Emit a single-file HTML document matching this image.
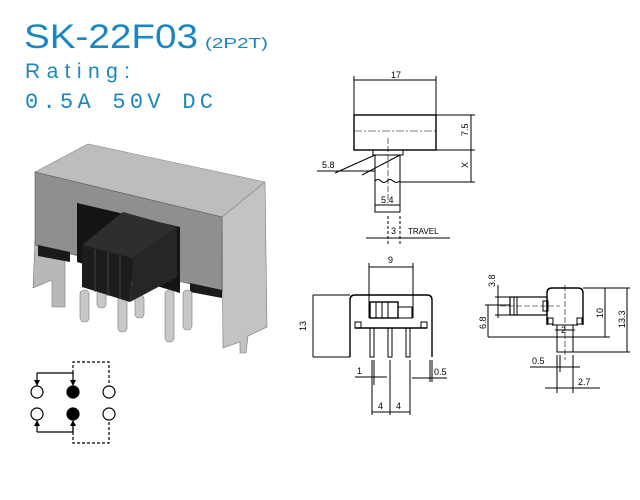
<!DOCTYPE html>
<html><head><meta charset="utf-8"><style>
html,body{margin:0;padding:0;background:#fff;}
svg{display:block}
</style></head><body>
<svg width="640" height="500" viewBox="0 0 640 500" xmlns="http://www.w3.org/2000/svg">
<defs>
<marker id="ar" viewBox="0 0 6 6" refX="5" refY="3" markerWidth="5" markerHeight="5" orient="auto"><path d="M0,0L6,3L0,6z" fill="#000"/></marker>
</defs>
<g fill="#1a87c2" font-family="'Liberation Sans',sans-serif">
<text x="24" y="48" font-size="34" textLength="174" lengthAdjust="spacingAndGlyphs">SK-22F03</text>
<text x="205" y="48" font-size="15" textLength="63" lengthAdjust="spacingAndGlyphs">(2P2T)</text>
<text x="25" y="78" font-size="21" textLength="105" lengthAdjust="spacing">Rating:</text>
<text x="25" y="108" font-size="22" textLength="188" lengthAdjust="spacing" font-family="'Liberation Mono',monospace">0.5A 50V DC</text>
</g>
<g>
<polygon points="35,240 65,250 65,307 52,307 52,280 33,288" fill="#b8b8b8" stroke="#666" stroke-width="0.5"/>
<polygon points="222,217 265,182 267,327 248,336 246,353 240,353 240,342 223,348" fill="#c3c3c3" stroke="#777" stroke-width="0.6"/>
<polygon points="35,172 88,144 265,182 222,217" fill="#bdbdbd" stroke="#888" stroke-width="0.6"/>
<polygon points="35,172 222,217 222,292 35,245" fill="#8f8f8f" stroke="#555" stroke-width="0.6"/>
<polygon points="38,245 70,252 70,262 38,256" fill="#1a1a1a"/>
<polygon points="190,283 222,290 222,298 190,292" fill="#1a1a1a"/>
<polygon points="77,203 180,227 180,293 77,262" fill="#141414"/>
<g fill="#c8c8c8" stroke="#777" stroke-width="0.6">
<rect x="80" y="290" width="9" height="32" rx="4"/><rect x="97" y="290" width="9" height="18" rx="4"/>
<rect x="118" y="295" width="9" height="37" rx="4"/><rect x="135" y="295" width="9" height="23" rx="4"/>
<rect x="165" y="290" width="9" height="52" rx="4"/><rect x="183" y="290" width="9" height="40" rx="4"/>
</g>
<polygon points="82,245 123,212 177,227 133,258" fill="#2e2e2e"/>
<polygon points="82,245 133,258 130,302 82,287" fill="#1c1c1c"/>
<polygon points="133,258 177,227 177,277 130,302" fill="#262626"/>
<g stroke="#444" stroke-width="1"><line x1="95" y1="249" x2="95" y2="292"/><line x1="108" y1="252" x2="108" y2="296"/><line x1="120" y1="255" x2="120" y2="299"/></g>
</g>
<g stroke="#000" stroke-width="1.2" fill="none">
<polyline points="37,373 73,373 73,385" marker-end="url(#ar)"/>
<line x1="37" y1="373" x2="37" y2="385" marker-end="url(#ar)"/>
<polyline points="37,432 73,432 73,421"/>
<line x1="37" y1="432" x2="37" y2="421" marker-end="url(#ar)"/>
<line x1="73" y1="432" x2="73" y2="421" marker-end="url(#ar)"/>
<polyline points="73,373 73,362 109,362 109,385" stroke-dasharray="3,2"/>
<polyline points="73,432 73,443 109,443 109,421" stroke-dasharray="3,2"/>
<circle cx="37" cy="392" r="6"/><circle cx="109" cy="392" r="6"/>
<circle cx="37" cy="414" r="6"/><circle cx="109" cy="414" r="6"/>
<circle cx="73" cy="392" r="6" fill="#000"/><circle cx="73" cy="414" r="6" fill="#000"/>
</g>
<g stroke="#000" stroke-width="1" fill="none">
<line x1="354" y1="80" x2="436" y2="80"/><line x1="354" y1="76" x2="354" y2="115"/><line x1="436" y1="76" x2="436" y2="115"/>
<rect x="354" y="115" width="82" height="35" stroke-width="1.4"/>
<line x1="354" y1="131" x2="436" y2="131" stroke-dasharray="8,2,2,2" stroke-width="0.6"/>
<rect x="373" y="150" width="30" height="5"/>
<rect x="375" y="155" width="25" height="57"/>
<line x1="388" y1="138" x2="388" y2="200" stroke-dasharray="6,2" stroke-width="0.6"/>
<path d="M375,181 q3,-3 6,0 t6,0 t6,0 t7,0" />
<line x1="436" y1="115" x2="475" y2="115"/><line x1="436" y1="150" x2="475" y2="150"/><line x1="400" y1="182" x2="475" y2="182"/>
<line x1="471" y1="115" x2="471" y2="182"/>
<line x1="317" y1="171" x2="375" y2="171"/>
<line x1="335" y1="173" x2="375" y2="155"/><line x1="362" y1="175" x2="400" y2="155"/>
<line x1="375" y1="205" x2="400" y2="205"/>
<line x1="388" y1="216" x2="388" y2="246" stroke-dasharray="3,2"/><line x1="400" y1="216" x2="400" y2="246" stroke-dasharray="3,2"/>
<line x1="366" y1="238" x2="450" y2="238"/>
</g>
<g font-family="'Liberation Sans',sans-serif" font-size="9" fill="#000">
<text x="391" y="78">17</text>
<text x="322" y="168">5.8</text>
<text x="381" y="203">5.4</text>
<text x="391" y="234">3</text>
<text x="408" y="234" font-size="8">TRAVEL</text>
<text transform="translate(468,136) rotate(-90)">7.5</text>
<text transform="translate(468,168) rotate(-90)">X</text>
</g>
<g stroke="#000" stroke-width="1" fill="none">
<line x1="369" y1="267" x2="413" y2="267"/><line x1="369" y1="263" x2="369" y2="318"/><line x1="413" y1="263" x2="413" y2="318"/>
<path d="M350,357 L350,300 Q350,295 355,295 L427,295 Q432,295 432,300 L432,357" stroke-width="1.4"/>
<rect x="370" y="302" width="28" height="16" stroke-width="1.4"/>
<line x1="376" y1="302" x2="376" y2="318"/><line x1="382" y1="302" x2="382" y2="318"/><line x1="388" y1="302" x2="388" y2="318"/>
<rect x="398" y="307" width="14" height="11"/>
<line x1="355" y1="328" x2="427" y2="328" stroke-width="1.4"/>
<rect x="355" y="322" width="6" height="6"/><rect x="421" y="322" width="6" height="6"/>
<rect x="370" y="328" width="4" height="29"/><rect x="388" y="328" width="4" height="29"/><rect x="406" y="328" width="4" height="29"/>
<line x1="313" y1="295" x2="350" y2="295"/><line x1="313" y1="357" x2="350" y2="357"/><line x1="313" y1="295" x2="313" y2="357"/>
<line x1="355" y1="377" x2="387" y2="377"/><line x1="372" y1="360" x2="372" y2="385"/><line x1="374" y1="360" x2="374" y2="385"/>
<line x1="412" y1="378" x2="447" y2="378"/><line x1="430" y1="360" x2="430" y2="382"/><line x1="432" y1="360" x2="432" y2="382"/>
<line x1="372" y1="385" x2="372" y2="415"/><line x1="390" y1="360" x2="390" y2="415"/><line x1="410" y1="360" x2="410" y2="415"/>
<line x1="372" y1="412" x2="410" y2="412"/>
</g>
<g font-family="'Liberation Sans',sans-serif" font-size="9" fill="#000">
<text x="388" y="263">9</text>
<text transform="translate(306,331) rotate(-90)">13</text>
<text x="357" y="374">1</text>
<text x="434" y="375">0.5</text>
<text x="378" y="409">4</text><text x="396" y="409">4</text>
</g>
<g stroke="#000" stroke-width="1" fill="none">
<path d="M547,325 L547,293 Q547,288 552,288 L578,288 Q583,288 583,293 L583,325" stroke-width="1.4"/>
<rect x="510" y="297" width="37" height="18" stroke-width="1.2"/>
<line x1="514" y1="297" x2="514" y2="315"/><line x1="517" y1="297" x2="517" y2="315"/>
<rect x="543" y="301" width="5" height="10"/>
<rect x="548" y="318" width="5" height="6"/><rect x="577" y="318" width="5" height="6"/>
<line x1="552" y1="325" x2="578" y2="325"/>
<rect x="557" y="325" width="16" height="27"/>
<line x1="565" y1="285" x2="565" y2="360" stroke-dasharray="6,2" stroke-width="0.6"/>
<line x1="500" y1="306" x2="560" y2="306" stroke-dasharray="6,2" stroke-width="0.6"/>
<line x1="583" y1="288" x2="630" y2="288"/><line x1="488" y1="337" x2="610" y2="337"/><line x1="573" y1="352" x2="630" y2="352"/>
<line x1="605" y1="288" x2="605" y2="337"/><line x1="627" y1="288" x2="627" y2="352"/>
<line x1="488" y1="305" x2="488" y2="337"/><line x1="485" y1="305" x2="510" y2="305"/>
<line x1="495" y1="297" x2="510" y2="297"/><line x1="495" y1="315" x2="510" y2="315"/><line x1="498" y1="285" x2="498" y2="318"/>
<line x1="555" y1="330" x2="575" y2="330"/>
<line x1="530" y1="367" x2="580" y2="367"/><line x1="557" y1="355" x2="557" y2="372"/><line x1="560" y1="355" x2="560" y2="372"/>
<line x1="545" y1="388" x2="600" y2="388"/><line x1="557" y1="372" x2="557" y2="393"/><line x1="573" y1="355" x2="573" y2="393"/>
</g>
<g font-family="'Liberation Sans',sans-serif" font-size="9" fill="#000">
<text transform="translate(495,287) rotate(-90)">3.8</text>
<text transform="translate(486,329) rotate(-90)">6.8</text>
<text transform="translate(603,318) rotate(-90)">10</text>
<text transform="translate(625,328) rotate(-90)">13.3</text>
<text x="561" y="333">2</text>
<text x="532" y="364">0.5</text>
<text x="578" y="385">2.7</text>
</g>
</svg>
</body></html>
